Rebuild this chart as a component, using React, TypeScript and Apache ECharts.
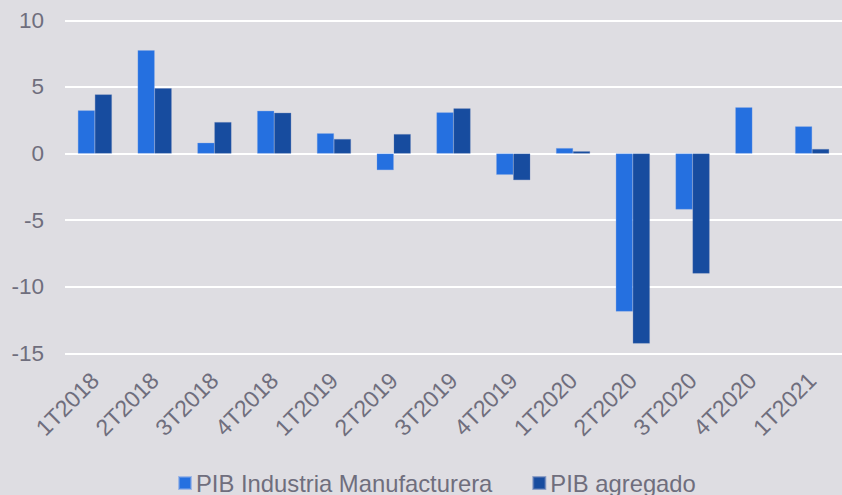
import React, { useEffect, useRef } from "react";
import * as echarts from "echarts";

const categories = ["1T2018", "2T2018", "3T2018", "4T2018", "1T2019", "2T2019", "3T2019", "4T2019", "1T2020", "2T2020", "3T2020", "4T2020", "1T2021"];
const manufacturera = [3.24, 7.75, 0.81, 3.21, 1.52, -1.24, 3.09, -1.59, 0.41, -11.85, -4.19, 3.47, 2.04];
const agregado = [4.44, 4.9, 2.36, 3.06, 1.09, 1.46, 3.39, -1.99, 0.17, -14.25, -9.0, null, 0.34];
const seriesNames = ["PIB Industria Manufacturera", "PIB agregado"];

const textColor = "#6f6e7d";
const font = "Arial, 'Liberation Sans', sans-serif";

export default function App() {
  const ref = useRef<HTMLDivElement>(null);
  useEffect(() => {
    if (!ref.current) return;
    const chart = echarts.init(ref.current, null, { renderer: "svg" });
    chart.setOption({
      animation: false,
      backgroundColor: "#dedde2",
      grid: { left: 65, right: -2, top: 20.3, bottom: 141.5, containLabel: false },
      legend: {
        left: 178,
        top: 471,
        padding: 0,
        itemWidth: 12,
        itemHeight: 12,
        itemGap: 40,
        icon: "rect",
        textStyle: { color: textColor, fontSize: 23.8, fontFamily: font },
        data: seriesNames,
      },
      xAxis: {
        type: "category",
        data: categories,
        axisLine: { show: false },
        axisTick: { show: false },
        axisLabel: { rotate: 45, color: textColor, fontSize: 23, fontFamily: font, margin: 23, interval: 0 },
      },
      yAxis: {
        type: "value",
        min: -15,
        max: 10,
        interval: 5,
        axisLine: { show: false },
        axisTick: { show: false },
        axisLabel: { color: textColor, fontSize: 22.5, fontFamily: font, margin: 21 },
        splitLine: { lineStyle: { color: "#ffffff", width: 2 } },
      },
      series: [
        {
          name: seriesNames[0],
          type: "bar",
          data: manufacturera,
          barWidth: 17,
          barGap: "0%",
          itemStyle: { color: "#2570e0", borderColor: "rgba(120,160,230,0.6)", borderWidth: 0.5 },
        },
        {
          name: seriesNames[1],
          type: "bar",
          data: agregado,
          barWidth: 17,
          itemStyle: { color: "#174c9f", borderColor: "rgba(90,120,180,0.6)", borderWidth: 0.5 },
        },
      ],
    });
    return () => chart.dispose();
  }, []);
  return <div ref={ref} style={{ width: 842, height: 495, position: "absolute", left: 0, top: 0 }} />;
}
